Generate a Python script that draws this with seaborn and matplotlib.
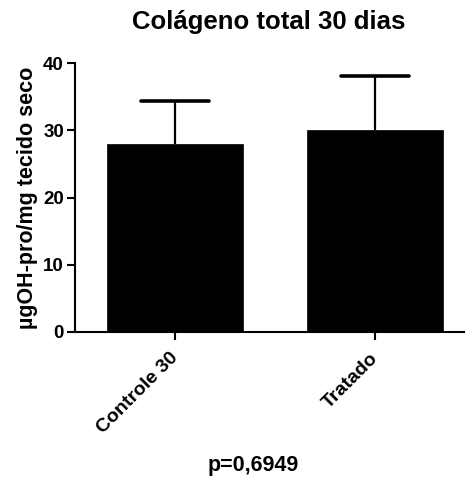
import numpy as np
import pandas as pd
import matplotlib
matplotlib.use("Agg")
import matplotlib.pyplot as plt
import seaborn as sns

sns.set_style("ticks", {"axes.edgecolor": "black", "text.color": "black",
                        "axes.labelcolor": "black", "xtick.color": "black",
                        "ytick.color": "black"})
plt.rcParams["font.family"] = ["Liberation Sans", "DejaVu Sans"]
plt.rcParams["font.weight"] = "bold"

grupos = ["Controle 30", "Tratado"]
medias = [27.9, 30.0]
desvios = [6.4, 8.05]
titulo = "Colágeno total 30 dias"
rotulo_y = "µgOH-pro/mg tecido seco"
p_valor = "p=0,6949"

df = pd.DataFrame({"grupo": grupos, "media": medias})

fig = plt.figure(figsize=(4.65, 4.79), dpi=100)
ax = fig.add_axes([75/465, (479-332)/479, 390/465, (332-63)/479])

sns.barplot(data=df, x="grupo", y="media", color="black", width=0.68,
            errorbar=None, edgecolor="black", linewidth=0.5, ax=ax, zorder=2)

# only the upper half of the SD bar, like in Prism
pos = np.arange(len(grupos))
topo = np.array(medias) + np.array(desvios)
ax.vlines(pos, medias, topo, color="black", linewidth=1.6, zorder=1)
ax.hlines(topo, pos - 0.17, pos + 0.17, color="black", linewidth=2.6,
          capstyle="round", zorder=1)

ax.set_xlim(-0.5, 1.45)
ax.set_ylim(0, 40)
ax.set_yticks([0, 10, 20, 30, 40])
sns.despine(ax=ax)
for s in ["left", "bottom"]:
    ax.spines[s].set_linewidth(1.5)
ax.tick_params(axis="both", width=1.5, length=6, labelsize=13.5)
ax.tick_params(axis="y", pad=2)
ax.tick_params(axis="x", pad=11)
ax.set_xticks(pos)
ax.set_xticklabels(grupos, rotation=45, ha="right", va="center",
                   rotation_mode="anchor", fontweight="bold", fontsize=14)
for t in ax.get_yticklabels():
    t.set_fontweight("bold")
ax.set_xlabel("")
ax.set_ylabel(rotulo_y, fontsize=15.5, fontweight="bold", labelpad=4)
fig.text(269/465, 1 - 22/479, titulo, ha="center", va="center",
         fontsize=18.5, fontweight="bold")
fig.text(253/465, 1 - 466/479, p_valor, ha="center", va="center",
         fontsize=15.5, fontweight="bold")

fig.savefig("out.png", dpi=100)
